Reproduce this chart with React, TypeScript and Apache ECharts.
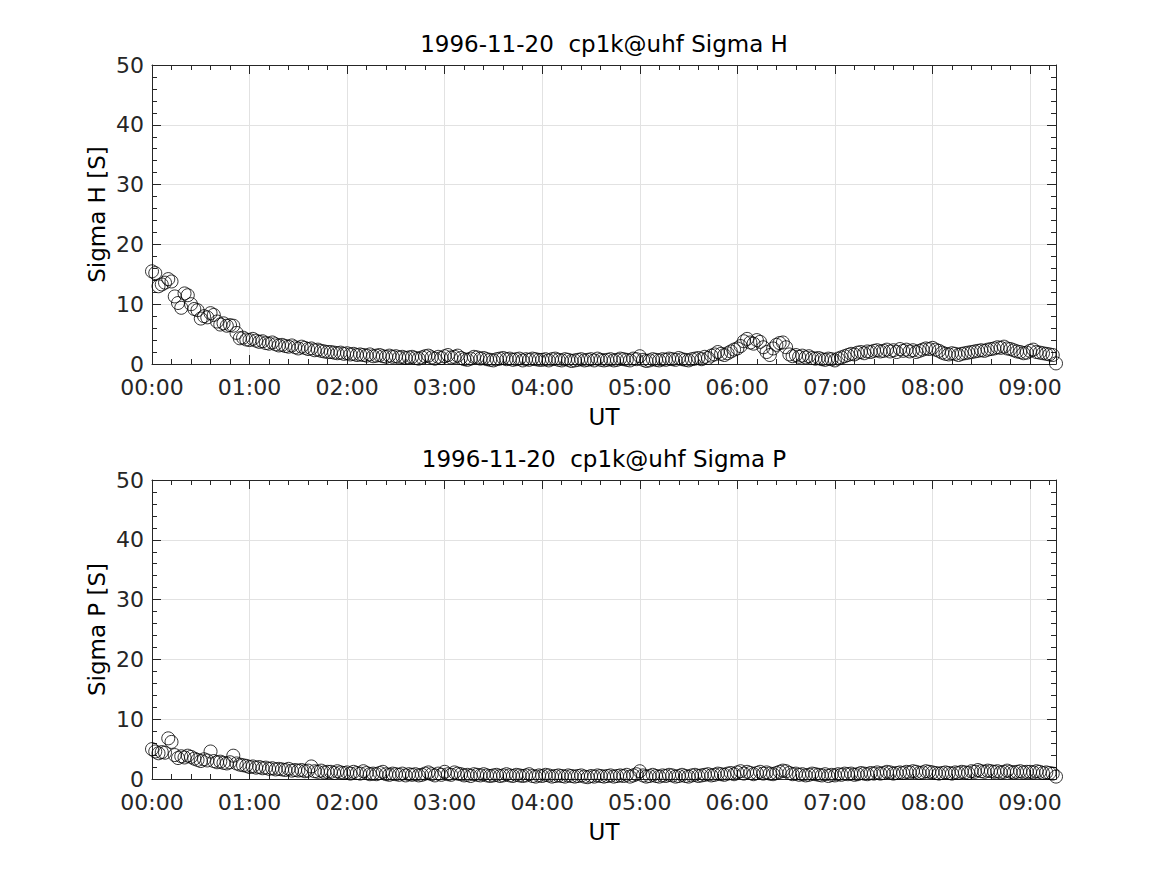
import React, { useEffect, useRef } from "react";
import * as echarts from "echarts";

// Sampling: minutes after 00:00 UT, one sample every 2 minutes
const START_MIN = 0;
const STEP_MIN = 2;
const X_MAX_MIN = 556;

const TITLE_H = "1996-11-20  cp1k@uhf Sigma H";
const TITLE_P = "1996-11-20  cp1k@uhf Sigma P";
const Y_NAME_H = "Sigma H [S]";
const Y_NAME_P = "Sigma P [S]";
const X_NAME = "UT";

const sigmaH = [
  15.5, 15.2, 13.0, 13.3, 13.6, 14.2, 13.8, 11.3, 10.2, 9.4,
  11.8, 11.5, 10.0, 9.2, 9.0, 7.6, 8.0, 7.8, 8.5, 8.2,
  7.1, 6.6, 6.8, 6.4, 6.5, 6.4, 5.2, 4.3, 4.4, 4.1,
  4.0, 4.2, 3.9, 3.7, 3.8, 3.5, 3.4, 3.6, 3.3, 3.1,
  3.2, 3.0, 2.9, 3.1, 2.8, 2.6, 2.9, 2.7, 2.5, 2.6,
  2.3, 2.4, 2.2, 2.1, 2.0, 2.0, 1.9, 1.8, 1.9, 1.7,
  1.8, 1.6, 1.7, 1.5, 1.6, 1.5, 1.4, 1.6, 1.3, 1.4,
  1.5, 1.3, 1.2, 1.4, 1.2, 1.3, 1.1, 1.2, 1.0, 1.1,
  1.2, 1.0, 0.9, 1.1, 1.3, 1.4, 1.1, 0.9, 1.2, 1.0,
  1.3, 1.5, 1.1, 1.2, 1.4, 1.0, 0.8, 0.7, 0.9, 1.2,
  1.1, 0.9, 1.0, 0.8, 0.7, 0.6, 0.8, 0.9, 1.0, 0.8,
  0.9, 0.7, 0.8, 0.9, 0.6, 0.8, 0.7, 0.9, 0.8, 0.7,
  0.7, 0.8, 0.6, 0.8, 0.9, 0.7, 0.6, 0.8, 0.7, 0.5,
  0.6, 0.7, 0.8, 0.6, 0.7, 0.8, 0.6, 0.9, 0.7, 0.6,
  0.7, 0.8, 0.6, 0.7, 0.9, 0.8, 0.7, 0.6, 0.9, 0.8,
  1.3, 0.7, 0.5, 0.6, 0.8, 0.7, 0.6, 0.8, 0.7, 0.9,
  0.8, 0.7, 1.0, 0.8, 0.7, 0.6, 0.8, 0.9, 1.0, 0.8,
  1.2, 1.0, 1.4, 1.6, 2.0, 1.7, 1.5, 1.8, 2.1, 2.4,
  2.6, 3.0, 3.8, 4.2, 3.6, 3.4, 4.0, 3.7, 2.8, 2.0,
  1.5, 2.6, 3.2, 3.5, 3.6, 2.8, 1.6, 1.3, 1.5, 1.2,
  1.4, 1.1, 1.3, 1.0, 0.9, 1.0, 0.8, 0.7, 0.9, 0.8,
  0.6, 0.9, 1.1, 1.3, 1.5, 1.7, 1.6, 1.9, 2.0, 1.8,
  2.1, 2.0, 2.2, 2.3, 2.1, 2.2, 2.4, 2.1, 2.3, 2.0,
  2.5, 2.2, 2.4, 2.1, 2.3, 2.0, 2.2, 2.4, 2.6, 2.5,
  2.7, 2.4, 2.2, 1.9, 1.7, 1.6, 1.8, 1.7, 1.5, 1.7,
  1.8, 1.9, 2.0, 2.1, 2.2, 2.3, 2.2, 2.4, 2.5, 2.6,
  2.8, 2.7, 2.9, 2.6, 2.5, 2.3, 2.1, 2.0, 1.8, 1.9,
  2.2, 2.4, 2.0, 1.9, 1.8, 1.7, 1.6, 1.5, 0.1,
];

const sigmaP = [
  5.0, 4.6, 4.3, 4.5, 4.4, 6.8, 6.2, 4.0, 3.5, 3.8,
  3.6, 3.9, 3.7, 3.4, 3.2, 3.0, 3.3, 3.1, 4.6, 3.0,
  2.8, 2.9, 2.7, 2.6, 2.8, 3.9, 2.6, 2.4, 2.3, 2.2,
  2.0, 2.1, 1.9, 2.0, 1.8, 1.9, 1.7, 1.8, 1.6, 1.7,
  1.6, 1.5, 1.7, 1.4, 1.5, 1.4, 1.5, 1.3, 1.4, 2.1,
  1.3, 1.2, 1.4, 1.1, 1.2, 1.2, 1.0, 1.3, 1.1, 1.0,
  1.1, 0.9, 1.2, 1.0, 0.9, 1.3, 1.0, 0.8, 0.9, 0.8,
  1.0, 1.2, 0.8, 0.7, 0.9, 0.8, 0.7, 0.9, 0.6, 0.8,
  0.7, 0.8, 0.6, 0.7, 0.9, 1.1, 0.8, 0.6, 0.9, 0.7,
  1.2, 0.8, 0.7, 1.1, 0.9, 0.8, 0.6, 0.7, 0.5, 0.8,
  0.7, 0.6, 0.8, 0.6, 0.5, 0.6, 0.7, 0.5, 0.6, 0.8,
  0.6, 0.5, 0.7, 0.6, 0.5, 0.6, 0.8, 0.5, 0.4, 0.6,
  0.5, 0.7, 0.6, 0.4, 0.5, 0.6, 0.5, 0.4, 0.6, 0.5,
  0.4, 0.5, 0.6, 0.4, 0.3, 0.5, 0.4, 0.6, 0.5, 0.4,
  0.5, 0.6, 0.4, 0.5, 0.6, 0.5, 0.7, 0.4, 0.6, 0.8,
  1.3, 0.6, 0.4, 0.5, 0.7, 0.5, 0.4, 0.6, 0.5, 0.7,
  0.6, 0.4, 0.5, 0.7, 0.5, 0.4, 0.6, 0.7, 0.5, 0.6,
  0.7, 0.8, 0.6, 0.7, 0.9, 0.8, 0.7, 0.9, 1.0, 0.8,
  1.1, 1.3, 0.9, 1.2, 1.0, 0.8, 1.0, 1.2, 0.9, 1.1,
  0.9, 0.8, 1.0, 1.2, 1.4, 1.3, 1.0, 0.8, 0.9, 0.7,
  0.8, 0.6, 0.7, 0.9, 0.8, 0.7, 0.6, 0.8, 0.5, 0.7,
  0.6, 0.8, 0.7, 0.9, 0.8, 0.9, 0.7, 0.8, 1.0, 0.9,
  0.8, 1.0, 0.9, 1.1, 0.9, 1.0, 1.2, 1.1, 0.9, 1.0,
  1.1, 1.0, 1.2, 1.1, 1.3, 1.2, 1.0, 1.1, 1.3, 1.2,
  1.1, 1.0, 0.9, 1.0, 1.1, 1.0, 0.9, 1.1, 1.0, 1.2,
  1.1, 1.0, 1.3, 1.2, 1.5, 1.3, 1.2, 1.4, 1.3, 1.2,
  1.3, 1.1, 1.2, 1.4, 1.2, 1.1, 1.2, 1.3, 1.1, 1.2,
  1.2, 1.1, 1.3, 1.2, 1.0, 1.1, 1.0, 0.9, 0.4,
];

const Y_MIN = 0;
const Y_MAX = 50;
const Y_MAJOR = 10;
const Y_MINOR = 2;
const X_MAJOR = 60;
const X_MINOR = 12;

const FONT = "DejaVu Sans";
const AXIS_COLOR = "#262626";
const GRID_COLOR = "#e2e2e2";

function fmtTime(v: number): string {
  if (v % 60 !== 0) return "";
  const h = Math.floor(v / 60);
  const m = v % 60;
  return String(h).padStart(2, "0") + ":" + String(m).padStart(2, "0");
}

export default function App() {
  const ref = useRef<HTMLDivElement>(null);

  useEffect(() => {
    if (!ref.current) return;
    const chart = echarts.init(ref.current, undefined, { renderer: "svg" });

    const rects = [
      { left: 152, top: 65, width: 904, height: 299 },
      { left: 152, top: 480, width: 904, height: 299 },
    ];
    // grids 0,1: major ticks / labels; grids 2,3: minor ticks (same rects)
    const grids = [...rects, ...rects];

    const xAxes: any[] = [];
    const yAxes: any[] = [];

    const tick = (len: number) => ({
      show: true,
      inside: true,
      length: len,
      lineStyle: { color: AXIS_COLOR, width: 1 },
    });
    const axisLine = (show: boolean) => ({
      show,
      onZero: false,
      lineStyle: { color: AXIS_COLOR, width: 1 },
    });

    grids.forEach((_, gi) => {
      const minor = gi >= 2;
      const xBase = {
        gridIndex: gi,
        type: "value",
        min: START_MIN,
        max: X_MAX_MIN,
        interval: minor ? X_MINOR : X_MAJOR,
        axisLine: axisLine(!minor),
        axisTick: tick(minor ? 5 : 9),
      };
      xAxes.push({
        ...xBase,
        position: "bottom",
        axisLabel: minor
          ? { show: false }
          : {
              show: true,
              formatter: (v: number) => fmtTime(v),
              fontFamily: FONT,
              fontSize: 22,
              color: AXIS_COLOR,
              margin: 12,
            },
        splitLine: minor
          ? { show: false }
          : { show: true, lineStyle: { color: GRID_COLOR, width: 1 } },
      });
      xAxes.push({
        ...xBase,
        position: "top",
        axisLabel: { show: false },
        splitLine: { show: false },
      });

      const yBase = {
        gridIndex: gi,
        type: "value",
        min: Y_MIN,
        max: Y_MAX,
        interval: minor ? Y_MINOR : Y_MAJOR,
        axisLine: axisLine(!minor),
        axisTick: tick(minor ? 5 : 9),
      };
      yAxes.push({
        ...yBase,
        position: "left",
        axisLabel: minor
          ? { show: false }
          : {
              show: true,
              fontFamily: FONT,
              fontSize: 22,
              color: AXIS_COLOR,
              margin: 8,
            },
        splitLine: minor
          ? { show: false }
          : { show: true, lineStyle: { color: GRID_COLOR, width: 1 } },
      });
      yAxes.push({
        ...yBase,
        position: "right",
        axisLabel: { show: false },
        splitLine: { show: false },
      });
    });

    const toPoints = (vals: number[]) =>
      vals.map((v, i) => [START_MIN + i * STEP_MIN, v]);

    const seriesStyle = {
      type: "scatter",
      symbol: "circle",
      symbolSize: 13,
      itemStyle: {
        color: "rgba(0,0,0,0)",
        borderColor: "#000000",
        borderWidth: 1,
      },
      silent: true,
      z: 5,
    };

    const text = (t: string, x: number, y: number, rot = 0) => ({
      type: "text",
      x,
      y,
      rotation: rot,
      silent: true,
      style: {
        text: t,
        fill: "#000000",
        fontFamily: FONT,
        fontSize: 23,
        textAlign: "center",
        textVerticalAlign: "middle",
      },
    });

    chart.setOption({
      animation: false,
      backgroundColor: "#ffffff",
      grid: grids,
      xAxis: xAxes,
      yAxis: yAxes,
      series: [
        { ...seriesStyle, xAxisIndex: 0, yAxisIndex: 0, data: toPoints(sigmaH) },
        { ...seriesStyle, xAxisIndex: 2, yAxisIndex: 2, data: toPoints(sigmaP) },
      ],
      graphic: [
        text(TITLE_H, 604, 44),
        text(X_NAME, 604, 417),
        text(Y_NAME_H, 97, 214.5, Math.PI / 2),
        text(TITLE_P, 604, 459),
        text(X_NAME, 604, 832),
        text(Y_NAME_P, 97, 629.5, Math.PI / 2),
      ],
    });

    return () => chart.dispose();
  }, []);

  return (
    <div
      ref={ref}
      style={{ position: "absolute", left: 0, top: 0, width: 1167, height: 875, background: "#fff" }}
    />
  );
}
